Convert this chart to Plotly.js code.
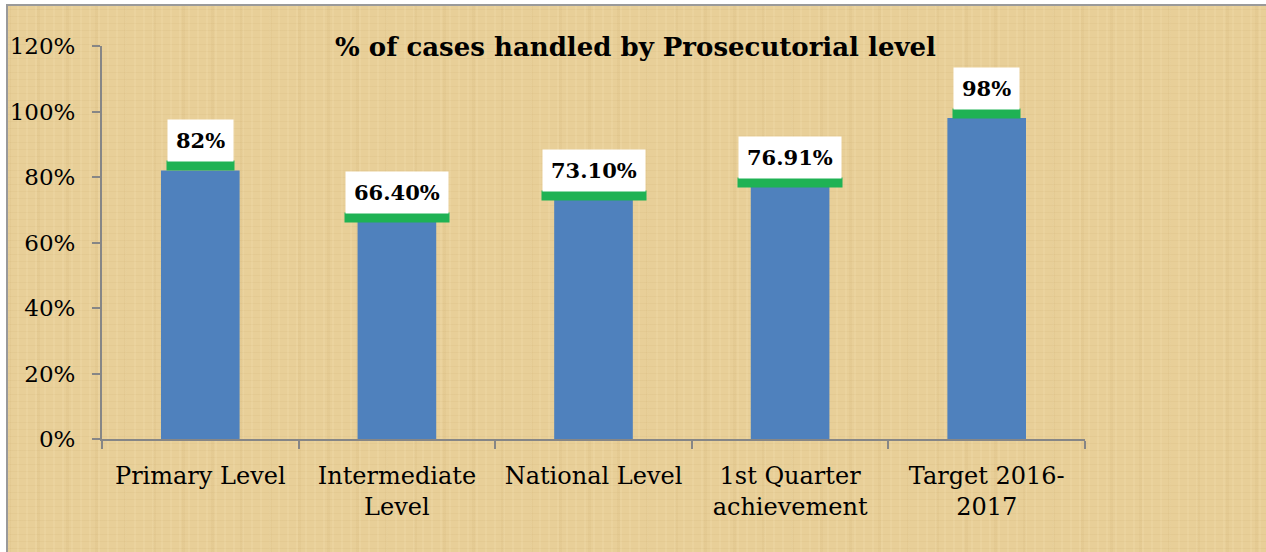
<!DOCTYPE html>
<html>
<head>
<meta charset="utf-8">
<script src="https://cdn.plot.ly/plotly-3.0.1.min.js"></script>
<style>
  html, body { margin: 0; padding: 0; background: #ffffff; }
  #bg {
    position: absolute; left: 6px; top: 4px; width: 1262px; height: 550px;
    border-left: 2px solid #9a9a9a; border-top: 2px solid #9a9a9a;
    background-color: #e8cf98;
    background-image:
      repeating-linear-gradient(90deg, rgba(255,240,200,0.12) 0px, rgba(255,240,200,0.12) 2px, rgba(0,0,0,0) 2px, rgba(0,0,0,0) 9px),
      repeating-linear-gradient(0deg, rgba(160,120,50,0.06) 0px, rgba(160,120,50,0.06) 1px, rgba(0,0,0,0) 1px, rgba(0,0,0,0) 7px),
      repeating-linear-gradient(90deg, rgba(170,130,60,0.06) 0px, rgba(170,130,60,0.06) 3px, rgba(0,0,0,0) 3px, rgba(0,0,0,0) 29px);
  }
  #chart { position: absolute; left: 0; top: 0; width: 1266px; height: 552px; }
</style>
</head>
<body>
<div id="bg"></div>
<div id="chart"></div>
<script>
const categories = ["Primary Level", "Intermediate<br>Level", "National Level", "1st Quarter<br>achievement", "Target 2016-<br>2017"];
const values = [0.82, 0.664, 0.731, 0.7691, 0.98];
const labels = ["82%", "66.40%", "73.10%", "76.91%", "98%"];
const yTickVals = [0, 0.2, 0.4, 0.6, 0.8, 1.0, 1.2];
const yTickText = ["0%", "20%", "40%", "60%", "80%", "100%", "120%"];

const serif = "DejaVu Serif, Liberation Serif, serif";
const labelSize = 21;
const labelPad = 8;

// measure label text widths so the green strip matches the white box
const ctx = document.createElement("canvas").getContext("2d");
ctx.font = "bold " + labelSize + "px 'DejaVu Serif'";
const labelWidths = labels.map(t => Math.round(ctx.measureText(t).width));

const trace = {
  type: "bar",
  x: categories,
  y: values,
  marker: { color: "#4f81bd" },
  hoverinfo: "skip"
};

const annotations = [];
categories.forEach((c, i) => {
  // green strip under the label box
  annotations.push({
    x: c, y: values[i], xref: "x", yref: "y",
    text: " ", showarrow: false,
    yanchor: "bottom", yshift: -1,
    width: labelWidths[i] + 2 * labelPad + 2, height: 9,
    font: { family: serif, size: 6, color: "rgba(0,0,0,0)" },
    bgcolor: "#1fb254", borderpad: 0
  });
  // white label box
  annotations.push({
    x: c, y: values[i], xref: "x", yref: "y",
    text: "<b>" + labels[i] + "</b>", showarrow: false,
    yanchor: "bottom", yshift: 8,
    font: { family: serif, size: labelSize, color: "#000000" },
    bgcolor: "#ffffff", borderpad: labelPad
  });
});

const layout = {
  width: 1266, height: 552,
  margin: { l: 102, r: 181, t: 46, b: 113 },
  paper_bgcolor: "rgba(0,0,0,0)",
  plot_bgcolor: "rgba(0,0,0,0)",
  showlegend: false,
  bargap: 0.6,
  title: {
    text: "<b>% of cases handled by Prosecutorial level</b>",
    font: { family: serif, size: 26, color: "#000000" },
    x: 0.502, xref: "container", xanchor: "center",
    y: 0.915, yref: "container", yanchor: "middle"
  },
  xaxis: {
    type: "category",
    showline: true, linecolor: "#868686", linewidth: 2,
    ticks: "outside", ticklen: 8, tickcolor: "#868686", tickwidth: 2,
    tickson: "boundaries",
    ticklabelstandoff: 14,
    showgrid: false, zeroline: false,
    tickfont: { family: serif, size: 24, color: "#000000" },
    fixedrange: true
  },
  yaxis: {
    range: [0, 1.2],
    tickvals: yTickVals, ticktext: yTickText,
    showline: true, linecolor: "#868686", linewidth: 2,
    ticks: "outside", ticklen: 8, tickcolor: "#868686", tickwidth: 2,
    ticklabelstandoff: 12,
    showgrid: false, zeroline: false,
    tickfont: { family: serif, size: 23, color: "#000000" },
    fixedrange: true
  },
  annotations: annotations
};

Plotly.newPlot("chart", [trace], layout, { displayModeBar: false, staticPlot: true });
</script>
</body>
</html>
